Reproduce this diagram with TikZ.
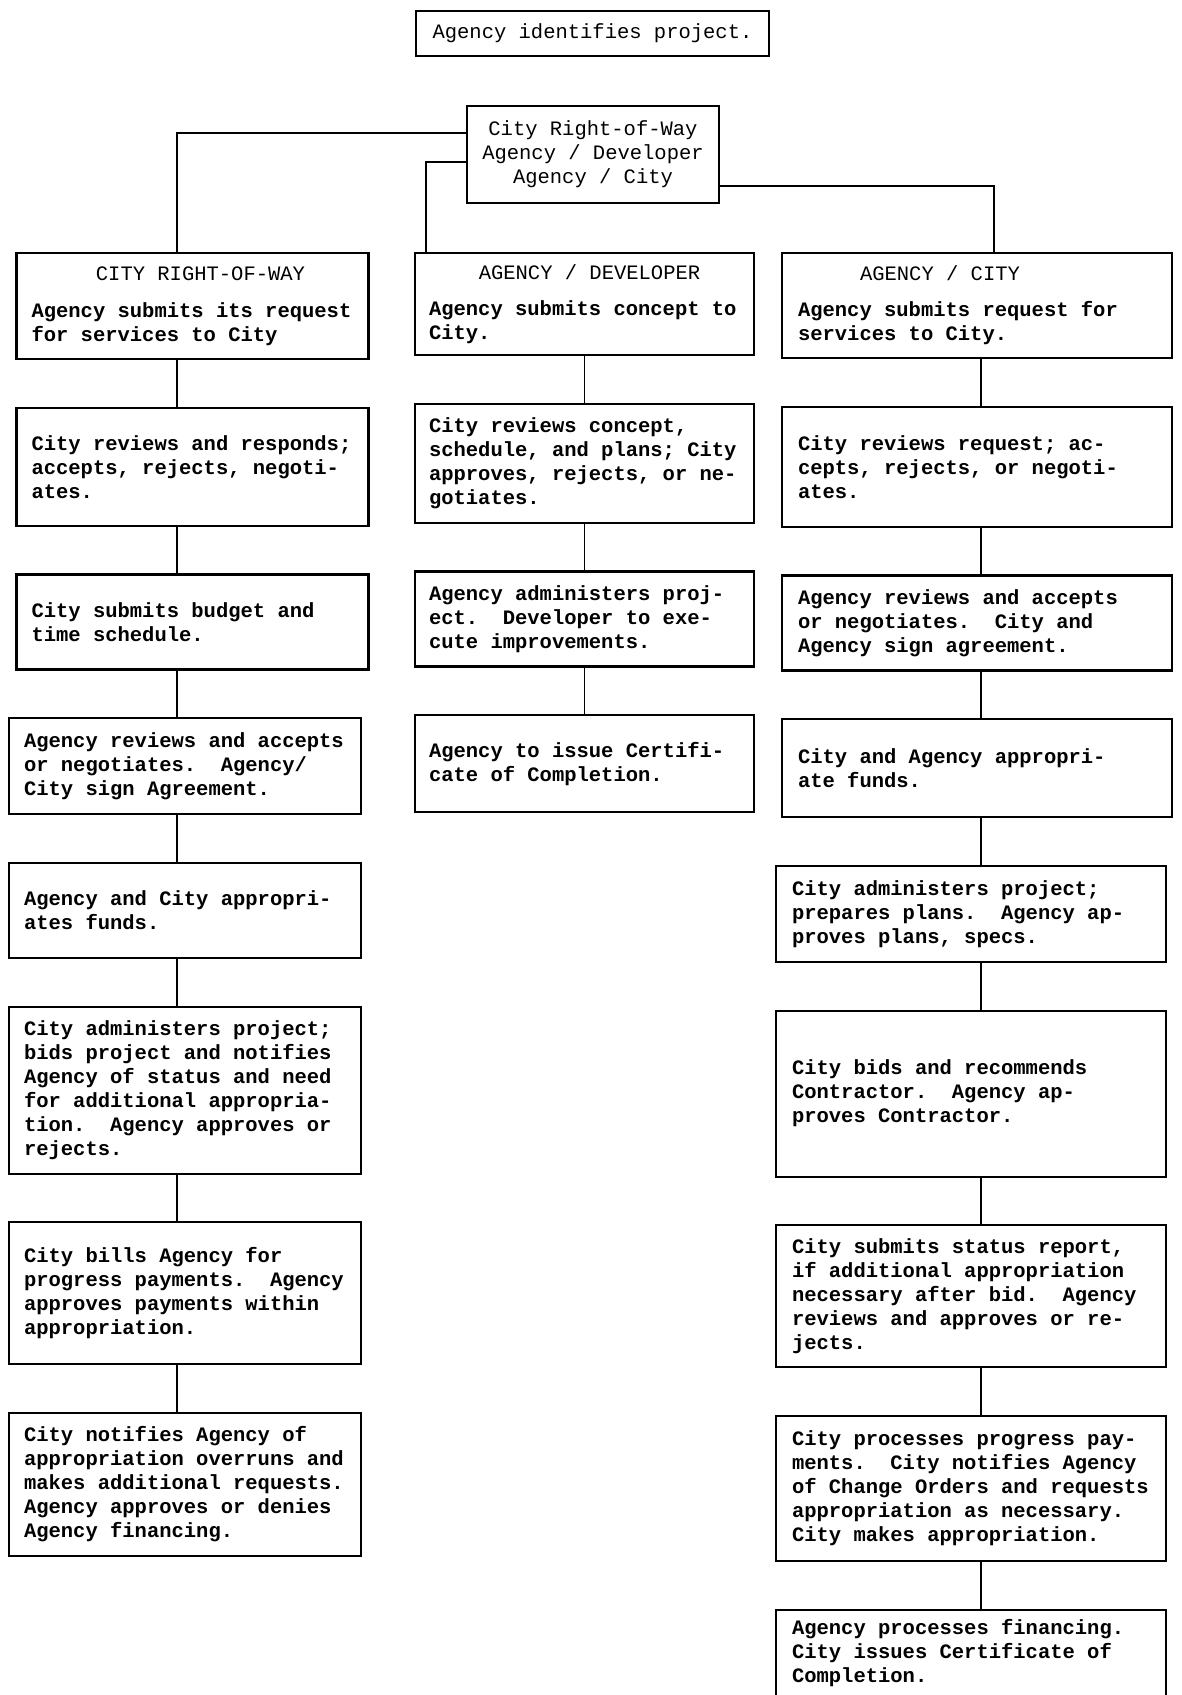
\documentclass[tikz,border=0pt]{standalone}
\usepackage{fontspec}
\newfontfamily\boxmono{Liberation Mono}
\usepackage{tikz}
\usetikzlibrary{positioning}
\newcommand\bodyfont{\boxmono\bfseries\fontsize{20.5}{24}\selectfont\frenchspacing}
\newcommand\headfont{\boxmono\fontsize{20.5}{24}\selectfont\frenchspacing}
\newcommand\colhead[2]{\makebox[\linewidth][c]{\hspace*{#1}\mdseries#2\hspace*{-#1}}}
\tikzset{
  box/.style={draw, line width=2.2pt, align=left, font=\bodyfont, inner ysep=4pt,
    execute at begin node={\spaceskip=0pt\xspaceskip=0pt}},
  crwbox/.style={box, text width=322pt, inner xsep=15pt},
  adbox/.style={box, text width=311pt, inner xsep=14pt},
  acbox/.style={box, text width=358pt, inner xsep=16pt},
  heading/.style={draw, line width=2.2pt, align=center, font=\headfont}
}

\begin{document}
\begin{tikzpicture}[x=1pt, y=-1pt, line width=1.8pt, node distance=46.5pt]
\useasboundingbox (0,0) rectangle (1181,1695);
\coordinate (vL) at (177,0);
\coordinate (vR) at (981,0);
\node[heading, minimum width=353pt, minimum height=45pt] (ident) at (592.5,33.5) {Agency identifies project.};
\node[heading, minimum width=252pt, minimum height=97pt] (sel) at (593,154.5) {City Right-of-Way\\Agency / Developer\\Agency / City};
% city right-of-way
\node[crwbox, anchor=north, minimum height=106pt] (crw1) at (192.5,252) {\colhead{8pt}{CITY RIGHT-OF-WAY}\\[13pt]Agency submits its request\\for services to City};
\node[crwbox, below=of crw1, minimum height=118pt] (crw2) {City reviews and responds;\\accepts, rejects, negoti-\\ates.};
\node[crwbox, below=of crw2, minimum height=95pt] (crw3) {City submits budget and\\time schedule.};
\node[crwbox, below=of crw3, xshift=-7.5pt, minimum height=96pt] (crw4) {Agency reviews and accepts\\or negotiates.~ Agency/\\City sign Agreement.};
\node[crwbox, below=of crw4, minimum height=95pt] (crw5) {Agency and City appropri-\\ates funds.};
\node[crwbox, below=of crw5, minimum height=167pt] (crw6) {City administers project;\\bids project and notifies\\Agency of status and need\\for additional appropria-\\tion.~ Agency approves or\\rejects.};
\node[crwbox, below=of crw6, minimum height=142pt] (crw7) {City bills Agency for\\progress payments.~ Agency\\approves payments within\\appropriation.};
\node[crwbox, below=of crw7, minimum height=143pt] (crw8) {City notifies Agency of\\appropriation overruns and\\makes additional requests.\\Agency approves or denies\\Agency financing.};
% agency / developer
\node[adbox, anchor=north, minimum height=102pt] (ad1) at (584.5,252) {\colhead{5pt}{AGENCY / DEVELOPER}\\[12pt]Agency submits concept to\\City.};
\node[adbox, below=of ad1, minimum height=119pt] (ad2) {City reviews concept,\\schedule, and plans; City\\approves, rejects, or ne-\\gotiates.};
\node[adbox, below=of ad2, minimum height=95pt] (ad3) {Agency administers proj-\\ect.~ Developer to exe-\\cute improvements.};
\node[adbox, below=of ad3, minimum height=97pt] (ad4) {Agency to issue Certifi-\\cate of Completion.};
% agency / city
\node[acbox, anchor=north, minimum height=105pt] (ac1) at (977,252) {\colhead{-37pt}{AGENCY / CITY}\\[12pt]Agency submits request for\\services to City.};
\node[acbox, below=of ac1, minimum height=120pt] (ac2) {City reviews request; ac-\\cepts, rejects, or negoti-\\ates.};
\node[acbox, below=of ac2, minimum height=95pt] (ac3) {Agency reviews and accepts\\or negotiates.~ City and\\Agency sign agreement.};
\node[acbox, below=of ac3, minimum height=98pt] (ac4) {City and Agency appropri-\\ate funds.};
\node[acbox, below=of ac4, xshift=-6pt, minimum height=96pt] (ac5) {City administers project;\\prepares plans.~ Agency ap-\\proves plans, specs.};
\node[acbox, below=of ac5, minimum height=166pt] (ac6) {City bids and recommends\\Contractor.~ Agency ap-\\proves Contractor.};
\node[acbox, below=of ac6, minimum height=142pt] (ac7) {City submits status report,\\if additional appropriation\\necessary after bid.~ Agency\\reviews and approves or re-\\jects.};
\node[acbox, below=of ac7, minimum height=145pt] (ac8) {City processes progress pay-\\ments.~ City notifies Agency\\of Change Orders and requests\\appropriation as necessary.\\City makes appropriation.};
\node[acbox, below=of ac8, inner ysep=10pt, text depth=80pt] (ac9) {Agency processes financing.\\City issues Certificate of\\Completion.};
% branches
\draw ([yshift=21.5pt]sel.west) -| (crw1.north -| vL);
\draw ([yshift=-7.5pt]sel.west) -| ([xshift=12pt]ad1.north west);
\draw ([yshift=-31.5pt]sel.east) -| ([xshift=17pt]ac1.north);
% columns
\draw (crw1.south -| vL) -- (crw2.north -| vL);
\draw (crw2.south -| vL) -- (crw3.north -| vL);
\draw (crw3.south -| vL) -- (crw4.north -| vL);
\draw (crw4.south -| vL) -- (crw5.north -| vL);
\draw (crw5.south -| vL) -- (crw6.north -| vL);
\draw (crw6.south -| vL) -- (crw7.north -| vL);
\draw (crw7.south -| vL) -- (crw8.north -| vL);
\draw (ad1) -- (ad2);
\draw (ad2) -- (ad3);
\draw (ad3) -- (ad4);
\draw (ac1.south -| vR) -- (ac2.north -| vR);
\draw (ac2.south -| vR) -- (ac3.north -| vR);
\draw (ac3.south -| vR) -- (ac4.north -| vR);
\draw (ac4.south -| vR) -- (ac5.north -| vR);
\draw (ac5.south -| vR) -- (ac6.north -| vR);
\draw (ac6.south -| vR) -- (ac7.north -| vR);
\draw (ac7.south -| vR) -- (ac8.north -| vR);
\draw (ac8.south -| vR) -- (ac9.north -| vR);
\end{tikzpicture}
\end{document}
